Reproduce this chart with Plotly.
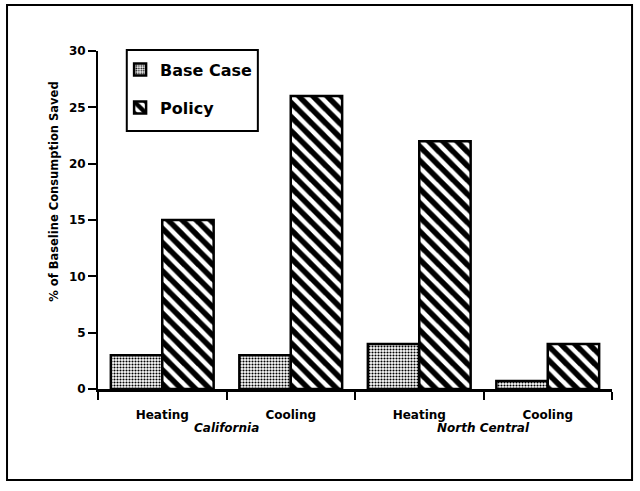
import plotly.graph_objects as go

# Savings by region and end use (% of baseline consumption)
regions = ["California", "California", "North Central", "North Central"]
end_uses = ["Heating", "Cooling", "Heating", "Cooling"]
base_case = [3, 3, 4, 0.7]
policy = [15, 26, 22, 4]
y_ticks = [0, 5, 10, 15, 20, 25, 30]

FONT = "DejaVu Sans"
x_pos = list(range(len(end_uses)))
bounds = [i - 0.5 for i in range(len(end_uses) + 1)]

fig = go.Figure()
fig.add_trace(
    go.Bar(
        x=x_pos,
        y=base_case,
        name="Base Case",
        legendgroup="base",
        marker=dict(
            color="white",
            line=dict(color="black", width=2.5),
            pattern=dict(shape=".", fgcolor="black", bgcolor="white", fgopacity=1, size=3, solidity=0.4),
        ),
    )
)
fig.add_trace(
    go.Bar(
        x=x_pos,
        y=policy,
        name="Policy",
        legendgroup="policy",
        marker=dict(
            color="white",
            line=dict(color="black", width=2.5),
            pattern=dict(shape="\\", fgcolor="black", bgcolor="white", fgopacity=1, size=10, solidity=0.55),
        ),
    )
)

# region labels under each pair of categories
annotations = []
for reg in dict.fromkeys(regions):
    idx = [i for i, r in enumerate(regions) if r == reg]
    annotations.append(
        dict(
            x=sum(idx) / len(idx),
            y=0,
            xref="x",
            yref="y",
            yshift=-39,
            text=reg,
            showarrow=False,
            font=dict(family=FONT, size=12, color="black", weight="bold", style="italic"),
        )
    )
annotations.append(
    dict(
        x=-0.086,
        y=0.583,
        xref="paper",
        yref="paper",
        xanchor="center",
        yanchor="middle",
        text="% of Baseline Consumption Saved",
        textangle=-90,
        showarrow=False,
        font=dict(family=FONT, size=11.5, color="black", weight="bold"),
    )
)

fig.update_layout(
    width=640,
    height=491,
    margin=dict(l=98, r=28, t=51, b=102),
    paper_bgcolor="white",
    plot_bgcolor="white",
    barmode="group",
    bargap=0.2,
    bargroupgap=0,
    font=dict(family=FONT, color="black"),
    showlegend=True,
    legend=dict(
        x=0.043,
        y=0.995,
        xanchor="left",
        yanchor="top",
        bgcolor="rgba(0,0,0,0)",
        borderwidth=0,
        traceorder="grouped",
        tracegroupgap=14,
        font=dict(family=FONT, size=16, color="black", weight="bold"),
    ),
    xaxis=dict(
        range=[-0.5, len(end_uses) - 0.5],
        tickvals=x_pos,
        ticktext=end_uses,
        ticks="",
        ticklabelstandoff=13,
        tickfont=dict(family=FONT, size=12, color="black", weight="bold"),
        showline=True,
        linecolor="black",
        linewidth=3,
        showgrid=False,
        zeroline=False,
        minor=dict(tickvals=bounds, ticks="outside", ticklen=8, tickwidth=2, tickcolor="black", showgrid=False),
    ),
    yaxis=dict(
        range=[0, 30],
        tickvals=y_ticks,
        ticks="outside",
        ticklen=8,
        tickwidth=2,
        tickcolor="black",
        tickfont=dict(family=FONT, size=12, color="black", weight="bold"),
        showline=True,
        linecolor="black",
        linewidth=2,
        showgrid=False,
        zeroline=False,
    ),
    yaxis2=dict(
        overlaying="y",
        side="left",
        range=[0, 30],
        tickvals=y_ticks,
        ticks="inside",
        ticklen=8,
        tickwidth=2,
        tickcolor="black",
        showticklabels=False,
        showline=False,
        showgrid=False,
        zeroline=False,
    ),
    annotations=annotations,
    shapes=[
        # outer frame
        dict(
            type="rect",
            xref="paper",
            yref="paper",
            x0=-0.177,
            x1=1.039,
            y0=-0.269,
            y1=1.136,
            line=dict(color="black", width=2),
        ),
        # legend box
        dict(
            type="rect",
            xref="paper",
            yref="paper",
            x0=0.056,
            x1=0.311,
            y0=0.763,
            y1=1.003,
            fillcolor="white",
            layer="below",
            line=dict(color="black", width=2),
        ),
    ],
)

fig.write_html(
    "out.html",
    config={"displayModeBar": False},
    post_script="document.body.style.margin='0';",
)
